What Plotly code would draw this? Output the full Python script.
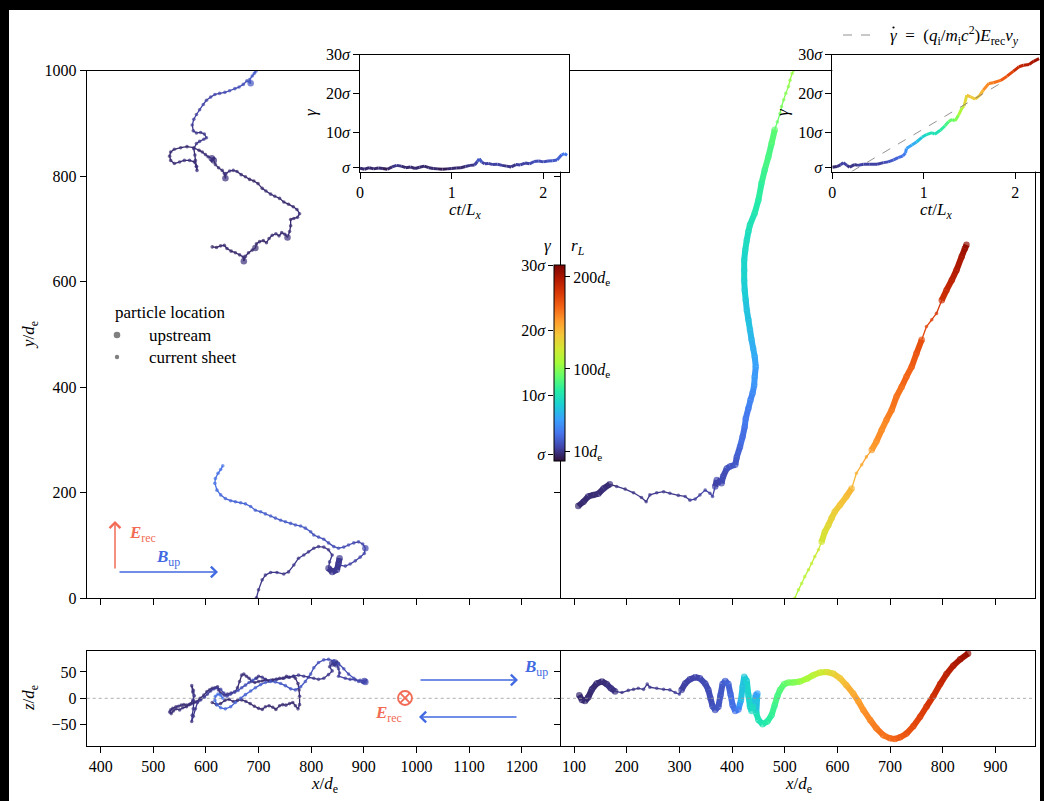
import plotly.graph_objects as go

W, H = 1044, 801
FONT = "Liberation Serif"
TXT = 16
BIG = 17
SALMON = "#f26b55"
BLUE = "#4169e1"
GRAY = "#808080"

# ---------------- data ----------------
# colour scale limits (gamma in units of sigma)
G_MIN, G_MAX = 0.0, 30.0
TURBO = ["#30123b", "#4145ab", "#4675ed", "#39a2fc", "#1bcfd4", "#24eca6", "#61fc6c",
         "#a4fc3b", "#d1e834", "#f3c63a", "#fe9b2d", "#f36315", "#d93806", "#b11901", "#7a0402"]

# left particle, x-y plane, upper piece
LT_X = [612, 620, 628, 635, 640, 648, 656, 664, 671, 672,
        675, 681, 688, 694, 696, 702, 709, 715, 720, 726,
        733, 739, 744, 750, 755, 759, 761, 761, 767, 774,
        778, 773, 766, 757, 748, 740, 731, 723, 714, 707,
        699, 691, 683, 675, 667, 659, 652, 645, 638, 637,
        635, 631, 624, 618, 615, 611, 604, 599, 593, 587,
        577, 564, 552, 540, 533, 531, 533, 540, 550, 559,
        569, 578, 582, 583, 582, 580, 579, 577, 582, 588,
        596, 601, 597, 590, 582, 576, 574, 577, 582, 588,
        595, 601, 609, 617, 626, 636, 645, 655, 663, 671,
        678, 685, 683, 688, 692, 695]
LT_Y = [666, 665, 668, 669, 663, 658, 655, 651, 647, 639,
        648, 655, 660, 664, 672, 676, 678, 674, 682, 688,
        691, 687, 693, 690, 684, 695, 706, 718, 720, 722,
        729, 737, 742, 747, 751, 758, 762, 766, 772, 777,
        786, 791, 794, 799, 803, 809, 811, 810, 805, 796,
        805, 811, 816, 822, 830, 834, 837, 841, 846, 849,
        854, 856, 854, 851, 846, 838, 830, 824, 827, 830,
        830, 827, 818, 811, 819, 830, 840, 852, 862, 866,
        870, 873, 880, 883, 882, 886, 897, 908, 917, 926,
        936, 944, 950, 955, 957, 959, 962, 966, 969, 974,
        981, 976, 983, 990, 995, 999]
LT_G = [0.9, 0.8, 0.9, 1.0, 0.9, 0.8, 0.9, 1.0, 1.1, 1.2,
        1.0, 0.9, 1.0, 1.1, 1.0, 0.9, 0.8, 0.9, 1.0, 1.1,
        1.2, 1.1, 1.0, 1.1, 1.2, 1.0, 0.9, 0.9, 1.0, 1.1,
        1.2, 1.1, 1.0, 0.9, 0.9, 1.0, 1.1, 1.2, 1.1, 1.0,
        0.9, 0.8, 0.8, 0.9, 1.0, 1.1, 1.2, 1.3, 1.2, 1.3,
        1.2, 1.1, 1.0, 1.1, 1.2, 1.3, 1.2, 1.1, 1.0, 0.9,
        0.9, 1.0, 1.1, 1.2, 1.1, 1.0, 1.0, 1.1, 1.2, 1.3,
        1.2, 1.1, 1.2, 1.3, 1.2, 1.1, 1.2, 1.3, 1.4, 1.5,
        1.6, 1.6, 1.5, 1.4, 1.5, 1.6, 1.7, 1.8, 1.8, 1.9,
        2.0, 2.0, 2.1, 2.2, 2.2, 2.3, 2.4, 2.5, 2.5, 2.6,
        2.7, 2.9, 2.8, 3.0, 3.1, 3.2]
LT_LOC = [int(c) for c in "0000000001" "0001000000" "0000100000" "0000000000" "0000000001"
          "0000110000" "0000000000" "0000000000" "0000000000" "0000000000" "010000"]

# left particle, x-y plane, lower piece (after crossing y = 1000 -> 0)
LB_X = [696, 700, 707, 713, 723, 735, 748, 757, 767, 776,
        786, 795, 805, 814, 824, 833, 840, 835, 833, 840,
        849, 852, 854, 852, 865, 874, 884, 893, 901, 903,
        898, 890, 881, 871, 862, 852, 843, 833, 824, 814,
        805, 799, 789, 780, 770, 761, 751, 742, 732, 723,
        713, 704, 694, 685, 675, 666, 656, 647, 637, 628,
        621, 617, 618, 623, 628, 632]
LB_Y = [1, 16, 35, 44, 49, 49, 46, 50, 63, 76,
        82, 88, 95, 98, 97, 92, 82, 69, 57, 50,
        54, 66, 76, 63, 61, 65, 71, 78, 85, 95,
        103, 107, 105, 101, 97, 95, 98, 105, 112, 116,
        120, 126, 133, 137, 139, 142, 145, 148, 152, 156,
        160, 164, 167, 174, 179, 181, 183, 185, 189, 196,
        205, 218, 227, 237, 244, 251]
LB_G = [1.3, 1.3, 1.4, 1.4, 1.5, 1.5, 1.4, 1.4, 1.5, 1.5,
        1.6, 1.6, 1.5, 1.5, 1.4, 1.4, 1.5, 1.5, 1.6, 1.6,
        1.7, 1.7, 1.7, 1.8, 1.9, 2.0, 2.0, 2.1, 2.1, 2.2,
        2.2, 2.2, 2.3, 2.3, 2.4, 2.4, 2.5, 2.5, 2.6, 2.6,
        2.7, 2.7, 2.8, 2.8, 2.9, 2.9, 3.0, 3.0, 3.1, 3.1,
        3.2, 3.2, 3.3, 3.3, 3.4, 3.4, 3.5, 3.5, 3.6, 3.7,
        3.8, 3.9, 4.0, 4.0, 4.1, 4.2]
LB_LOC = [int(c) for c in "0000000000" "0000000011" "1110000001" + "0" * 36]

# left particle, x-z plane
LXZ_X = [612, 620, 628, 636, 644, 652, 660, 668, 676, 684, 692, 700, 707, 713, 720, 727, 733, 740,
         746, 752, 759, 765, 770, 775, 778,
         778, 777, 775, 770, 766, 759, 753, 746, 740, 733, 727, 720, 713, 707, 700, 693, 687, 682,
         677, 672, 668, 664, 660, 655, 648, 641, 635, 628, 624, 622, 617, 612, 607, 602, 596, 589,
         583, 578, 573, 568, 563, 558, 553, 548, 543, 537, 533, 531,
         534, 538, 543, 550, 556, 563, 570, 575, 578, 576, 573, 575, 577, 576, 574, 573, 576, 580,
         584, 590, 597, 603, 609, 615, 621, 628, 634, 640, 647, 654, 661, 668, 675, 682, 689, 695,
         696, 700, 707, 713, 723, 735, 748, 757, 767, 776, 786, 795, 805, 814, 824, 833, 840, 835,
         840, 845, 849, 852, 854, 852,
         865, 874, 884, 893, 901, 903, 898, 890, 881, 871, 862, 852, 843, 833, 824, 814, 805, 799,
         789, 780, 770, 761, 751, 742, 732, 723, 713, 704, 694, 685, 675, 666, 656, 647, 637, 628,
         621, 617, 618, 623, 628, 632]
LXZ_Z = [-8, -12, -10, -4, -2, -6, -4, -3, -6, -10, -15, -19, -21, -16, -14, -17, -21, -14,
         -12, -13, -10, -8, -14, -20, -12,
         4, 16, 28, 38, 42, 40, 42, 38, 38, 36, 35, 33, 35, 33, 32, 30, 32, 38,
         42, 46, 44, 32, 20, 12, 10, 8, 6, 10, 16, 22, 20, 19, 16, 13, 6, 0,
         -6, -8, -10, -12, -13, -12, -13, -15, -16, -19, -22, -26,
         -29, -24, -20, -22, -18, -16, -11, -4, 5, 15, 24, 12, -5, -20, -32, -44, -34, -20,
         -8, -3, 2, 8, 14, 18, 20, 17, 10, 4, 8, 12, 15, 20, 25, 30, 34, 38,
         38, 42, 40, 36, 34, 36, 38, 40, 42, 44, 42, 40, 38, 36, 38, 45, 52, 60,
         66, 68, 64, 56, 48, 42,
         38, 36, 35, 34, 33, 31, 30, 32, 38, 46, 56, 66, 71, 74, 73, 68, 58, 46,
         32, 22, 16, 18, 24, 28, 31, 32, 30, 26, 20, 14, 7, 0, -8, -16, -20, -18,
         -12, -4, 4, 8, 6, 0]
LXZ_G = [0.9, 1.0, 0.9, 1.0, 1.1, 1.0, 0.9, 1.0, 1.1, 1.0, 0.9, 1.0, 1.1, 1.2, 1.1, 1.0, 0.9, 1.0,
         1.1, 1.2, 1.1, 1.0, 1.1, 1.2, 1.2,
         1.2, 1.1, 1.0, 1.1, 1.2, 1.1, 1.0, 0.9, 1.0, 1.1, 1.0, 0.9, 0.8, 0.9, 1.0, 1.1, 1.2, 1.3,
         1.2, 1.3, 1.2, 1.1, 1.0, 1.1, 1.2, 1.3, 1.2, 1.1, 1.0, 0.9, 0.9, 1.0, 1.1, 1.2, 1.1, 1.0,
         1.0, 1.1, 1.2, 1.3, 1.2, 1.1, 1.2, 1.3, 1.2, 1.1, 1.2, 1.3,
         1.2, 1.1, 1.2, 1.3, 1.2, 1.1, 1.2, 1.3, 1.4, 1.3, 1.2, 1.3, 1.4, 1.5, 1.4, 1.3, 1.4, 1.5,
         1.6, 1.6, 1.7, 1.8, 1.8, 1.9, 2.0, 2.0, 2.1, 2.2, 2.2, 2.3, 2.4, 2.5, 2.5, 2.6, 2.7, 2.9,
         1.3, 1.3, 1.4, 1.4, 1.5, 1.5, 1.4, 1.4, 1.5, 1.5, 1.6, 1.6, 1.5, 1.5, 1.4, 1.4, 1.5, 1.5,
         1.6, 1.6, 1.7, 1.7, 1.7, 1.8,
         1.9, 2.0, 2.0, 2.1, 2.1, 2.2, 2.2, 2.2, 2.3, 2.3, 2.4, 2.4, 2.5, 2.5, 2.6, 2.6, 2.7, 2.7,
         2.8, 2.8, 2.9, 2.9, 3.0, 3.0, 3.1, 3.1, 3.2, 3.2, 3.3, 3.3, 3.4, 3.4, 3.5, 3.5, 3.6, 3.7,
         3.8, 3.9, 4.0, 4.0, 4.1, 4.2]
LXZ_LOC = [int(c) for c in "0" * 25 + "0" * 48 + "0" * 36 + "000000000000000000111000"
           + "000011" + "0" * 36]

# right particle, x-y plane, first piece
R1_X = [108, 118, 127, 137, 146, 156, 168, 181, 197, 213, 228, 237, 244, 257, 270, 282, 298, 311,
        320, 330, 339, 349, 358, 363, 368, 371, 380, 383, 390, 396, 406, 409, 415, 420, 424, 426,
        431, 435, 439, 442, 443, 445, 443, 440, 437, 434, 431, 428, 426, 424, 423, 423, 423, 425,
        428, 431, 434, 443, 450, 456, 462, 469, 475, 481, 486, 491, 494, 498, 502, 507, 510, 514, 518]
R1_Y = [175, 183, 193, 196, 198, 208, 216, 212, 207, 200, 191, 183, 196, 200, 202, 199, 195, 193,
        186, 188, 196, 205, 199, 193, 212, 224, 218, 231, 246, 250, 253, 268, 287, 306, 325, 341,
        360, 376, 389, 404, 420, 439, 458, 474, 490, 509, 528, 546, 565, 584, 603, 622, 641, 660,
        679, 695, 708, 730, 755, 787, 812, 837, 862, 888, 903, 919, 932, 945, 957, 970, 982, 995, 1002]
R1_G = [1.0, 1.1, 1.2, 1.1, 1.2, 1.3, 1.2,
        1.3, 1.3, 1.4, 1.4, 1.4, 1.5, 1.5, 1.5, 1.6, 1.6, 1.7, 1.7, 1.8, 1.8, 1.9, 1.9, 2.0,
        2.1, 2.2, 2.3, 2.5, 2.7, 2.9, 3.1, 3.3,
        3.6, 3.9, 4.2, 4.5, 4.8, 5.1, 5.4, 5.8, 6.1, 6.4,
        6.7, 7.0, 7.3, 7.6, 7.9,
        8.1, 8.3, 8.5, 8.7, 8.9, 9.1,
        9.3, 9.5, 9.7, 9.9,
        10.3, 10.7, 11.1, 11.6, 12.0, 12.4, 12.8, 13.1, 13.4,
        13.6, 13.8, 14.0, 14.2, 14.4, 14.6, 14.8]
R1_LOC = [int(c) for c in "1" * 7 + "0" * 17 + "1" * 40 + "0" * 9]

# right particle, x-y plane, second piece
R2_X = [519, 526, 532, 538, 545, 551, 557, 564, 570, 576, 583, 589, 595, 605, 617, 627, 636, 646,
        655, 665, 674, 684, 693, 703, 712, 722, 731, 741, 750, 760, 769, 779, 788, 798, 807, 817,
        826, 836, 842, 845]
R2_Y = [0, 16, 28, 41, 54, 66, 79, 92, 107, 126, 139, 152, 164, 177, 193, 208, 237, 253,
        268, 281, 297, 319, 338, 357, 382, 401, 420, 439, 464, 490, 515, 528, 540, 565, 584, 603,
        622, 648, 663, 670]
R2_G = [15.5, 15.7, 15.9, 16.1, 16.3, 16.5, 16.7, 16.9,
        17.3, 17.7, 18.1, 18.5, 18.9, 19.3, 19.7, 20.0,
        20.4, 20.8, 21.1, 21.4, 21.7,
        22.0, 22.3, 22.6, 22.9, 23.2, 23.5, 23.8,
        24.2, 24.6, 25.0, 25.4, 25.8,
        26.3, 26.8, 27.3, 27.8,
        28.3, 28.7, 29.0]
R2_LOC = [int(c) for c in "0" * 8 + "1" * 8 + "0" * 3 + "1" * 11 + "0" * 3 + "1" * 7]

# right particle, x-z plane
RXZ_X = [110, 115, 121, 127, 134, 143, 153, 162, 170, 178, 191, 203, 213, 222, 232, 239, 244, 257,
         270, 282, 292, 300, 304, 311, 320, 330, 339, 349, 355, 359, 363, 368, 374, 378, 382, 387,
         393, 397, 401, 406, 412, 417, 420, 423, 428, 431, 434, 437, 440, 445, 448, 446, 450, 458,
         467, 475, 481, 486, 491, 499, 507, 516, 529, 542, 554, 567, 580, 592, 605, 617, 630, 640,
         649, 662, 674, 687, 700, 709, 719, 731, 744, 757, 769, 782, 795, 807, 820, 833, 848]
RXZ_Z = [6, -3, -5, 2, 17, 28, 32, 27, 19, 13, 11, 15, 17, 19, 17, 27, 21, 19,
         17, 16, 11, 8, 16, 28, 36, 40, 38, 28, 16, 0, -15, -22, -16, 6, 27, 33,
         27, 8, -13, -24, -21, -3, 22, 41, 33, 6, -16, -24, -16, 6, 9, -28, -41, -49,
         -44, -32, -13, 4, 16, 27, 30, 30, 32, 37, 44, 49, 50, 47, 38, 25, 9, -6,
         -22, -41, -57, -70, -76, -77, -74, -67, -53, -35, -16, 4, 27, 46, 62, 74, 85]
RXZ_G = [1.0, 1.0, 1.1, 1.1, 1.2, 1.2, 1.2, 1.3, 1.3, 1.3,
         1.4, 1.4, 1.4, 1.5, 1.5, 1.5, 1.6, 1.6, 1.6, 1.7, 1.7, 1.8,
         1.9, 2.0, 2.1, 2.2, 2.3, 2.4, 2.5, 2.6,
         2.7, 2.8, 2.9, 3.0, 3.2, 3.4, 3.6, 3.8, 4.0, 4.3, 4.6,
         7.6, 8.0, 8.3, 8.6, 8.9, 9.1, 9.3, 9.5,
         6.0, 6.5, 9.8,
         10.1, 10.4, 10.8, 11.2, 11.6, 12.0,
         12.4, 12.8, 13.3, 13.8,
         14.5, 15.2, 16.0, 16.8, 17.6,
         18.4, 19.2, 20.0, 20.6,
         21.2, 21.7, 22.2, 22.6, 23.0, 23.3,
         23.6, 24.0, 24.4, 24.8, 25.3, 25.8,
         26.3, 26.8, 27.3, 27.8, 28.4, 29.0]
RXZ_LOC = [int(c) for c in "1" * 10 + "0" * 12 + "1" * 67]

# gamma(t) insets
LI_T = [0.00, 0.05, 0.10, 0.15, 0.20, 0.25, 0.30, 0.35, 0.40, 0.45, 0.50, 0.55, 0.60, 0.65, 0.70,
        0.75, 0.80, 0.85, 0.90, 0.95, 1.00, 1.05, 1.10, 1.15, 1.20, 1.25, 1.28, 1.30, 1.33, 1.36,
        1.40, 1.45, 1.50, 1.55, 1.60, 1.65, 1.70, 1.75, 1.80, 1.85, 1.90, 1.95, 2.00, 2.05, 2.10,
        2.15, 2.20, 2.23, 2.26]
LI_G = [0.9, 0.6, 1.0, 0.7, 0.9, 0.8, 0.6, 1.2, 1.6, 1.4, 1.0, 1.2, 0.8, 1.1, 1.4,
        1.0, 0.8, 0.7, 0.6, 0.7, 0.8, 0.9, 1.0, 1.3, 1.6, 1.7, 2.6, 3.3, 2.4, 2.0,
        2.1, 1.8, 1.9, 1.6, 1.4, 1.2, 1.8, 1.7, 2.2, 2.0, 2.6, 2.7, 2.5, 2.7, 2.8,
        3.0, 4.3, 4.6, 4.2]
RI_T = [0.00, 0.05, 0.09, 0.12, 0.16, 0.19, 0.24, 0.28, 0.34, 0.41, 0.49, 0.56, 0.61, 0.67, 0.72,
        0.77, 0.80, 0.81, 0.87, 0.92, 0.98, 1.03, 1.09, 1.12, 1.18, 1.23, 1.27, 1.31, 1.34, 1.38,
        1.42, 1.44, 1.47, 1.51, 1.56, 1.61, 1.65, 1.71, 1.76, 1.84, 1.91, 1.98, 2.04, 2.09, 2.15,
        2.20, 2.26]
RI_G = [1.1, 1.3, 1.7, 2.3, 1.6, 1.1, 1.8, 1.6, 1.9, 1.9, 1.9, 2.3, 2.5, 3.0, 3.6,
        4.0, 4.8, 5.9, 6.8, 7.6, 8.8, 9.5, 10.0, 9.6, 10.6, 11.7, 12.8, 13.4, 13.0, 14.5,
        16.4, 16.8, 19.6, 19.2, 18.6, 19.5, 20.9, 22.6, 22.8, 23.4, 24.5, 25.8, 26.9, 27.3, 27.5,
        28.3, 29.0]
# linear energisation estimate (dashed line)
DASH_T = [0.21, 1.85]
DASH_G = [0.0, 22.8]

# tick labels
TL_X_TICKS = [400, 500, 600, 700, 800, 900, 1000, 1100, 1200]
TR_X_TICKS = [100, 200, 300, 400, 500, 600, 700, 800, 900]
Y_TICKS = [0, 200, 400, 600, 800, 1000]
Z_TICKS = [-50, 0, 50]
T_TICKS = [0, 1, 2]
SIG_VALS = [1, 10, 20, 30]
SIG_TXT = ["<i>σ</i>", "10<i>σ</i>", "20<i>σ</i>", "30<i>σ</i>"]
RL_TICKS = [10, 100, 200]
RL_PER_G = 7.1

for a in [(LT_X, LT_Y, LT_G, LT_LOC), (LB_X, LB_Y, LB_G, LB_LOC), (LXZ_X, LXZ_Z, LXZ_G, LXZ_LOC),
          (R1_X, R1_Y, R1_G, R1_LOC), (R2_X, R2_Y, R2_G, R2_LOC), (RXZ_X, RXZ_Z, RXZ_G, RXZ_LOC)]:
    assert len(set(len(v) for v in a)) == 1, [len(v) for v in a]
assert len(LI_T) == len(LI_G) and len(RI_T) == len(RI_G)


# ---------------- helpers ----------------
def turbo(v):
    v = min(max(v, 0.0), 1.0) * (len(TURBO) - 1)
    i = min(int(v), len(TURBO) - 2)
    f = v - i
    c0 = [int(TURBO[i][k:k + 2], 16) for k in (1, 3, 5)]
    c1 = [int(TURBO[i + 1][k:k + 2], 16) for k in (1, 3, 5)]
    return "rgb(%d,%d,%d)" % tuple(round(a + (b - a) * f) for a, b in zip(c0, c1))


NBIN = 60
fig = go.Figure()


def add_path(xs, ys, gs, locs, xa, ya, thick=6.0, thin=1.3, big=6.5, small=3.6, markers=True):
    groups = {}
    for i in range(len(xs) - 1):
        g = 0.5 * (gs[i] + gs[i + 1])
        b = int(round((g - G_MIN) / (G_MAX - G_MIN) * NBIN))
        up = True if locs is None else bool(locs[i] and locs[i + 1])
        gx, gy = groups.setdefault((b, up), ([], []))
        gx += [xs[i], xs[i + 1], None]
        gy += [ys[i], ys[i + 1], None]
    for (b, up), (gx, gy) in sorted(groups.items(), key=lambda kv: kv[0][1]):
        fig.add_trace(go.Scatter(x=gx, y=gy, mode="lines", xaxis=xa, yaxis=ya,
                                 line=dict(color=turbo(b / NBIN), width=thick if up else thin),
                                 hoverinfo="skip", showlegend=False))
    if markers:
        fig.add_trace(go.Scatter(x=xs, y=ys, mode="markers", xaxis=xa, yaxis=ya,
                                 marker=dict(color=gs, coloraxis="coloraxis",
                                             size=[big if l else small for l in locs],
                                             line=dict(width=0)),
                                 hoverinfo="skip", showlegend=False))


add_path(LT_X, LT_Y, LT_G, LT_LOC, "x", "y")
add_path(LB_X, LB_Y, LB_G, LB_LOC, "x", "y")
add_path(R1_X, R1_Y, R1_G, R1_LOC, "x2", "y2")
add_path(R2_X, R2_Y, R2_G, R2_LOC, "x2", "y2")
add_path(LXZ_X, LXZ_Z, LXZ_G, LXZ_LOC, "x3", "y3")
add_path(RXZ_X, RXZ_Z, RXZ_G, RXZ_LOC, "x4", "y4")
add_path(LI_T, LI_G, LI_G, None, "x5", "y5", thick=3.0, markers=False)
add_path(RI_T, RI_G, RI_G, None, "x6", "y6", thick=3.0, markers=False)
fig.add_trace(go.Scatter(x=DASH_T, y=DASH_G, mode="lines", xaxis="x6", yaxis="y6",
                         line=dict(color="#777777", width=0.8, dash="dash"),
                         hoverinfo="skip", showlegend=False))
fig.add_trace(go.Scatter(x=[None], y=[None], xaxis="x7", yaxis="y7", showlegend=False))


# ---------------- axes ----------------
def dx(a, b):
    return [a / W, b / W]


def dy(top, bot):
    return [1 - bot / H, 1 - top / H]


TF = dict(family=FONT, size=TXT, color="black")
base = dict(showline=True, linecolor="black", linewidth=1, mirror=True, ticks="outside",
            ticklen=6, tickwidth=1, tickcolor="black", showgrid=False, zeroline=False,
            tickfont=TF, fixedrange=True)

TOP = dy(70.7, 598.3)
BOT = dy(651, 746)
LEFTX = dx(86.7, 561)
RIGHTX = dx(561, 1035)
XL_RANGE = [373.4, 1274.8]
XR_RANGE = [75.3, 975]
Z_RANGE = [-90.5, 89.8]

layout_axes = dict(
    xaxis=dict(base, domain=LEFTX, range=XL_RANGE, tickvals=TL_X_TICKS, showticklabels=False, anchor="y"),
    yaxis=dict(base, domain=TOP, range=[0, 1000], tickvals=Y_TICKS, anchor="x", mirror=False),
    xaxis2=dict(base, domain=RIGHTX, range=XR_RANGE, tickvals=TR_X_TICKS, showticklabels=False, anchor="y2"),
    yaxis2=dict(base, domain=TOP, range=[0, 1000], tickvals=Y_TICKS, showticklabels=False, anchor="x2"),
    xaxis3=dict(base, domain=LEFTX, range=XL_RANGE, tickvals=TL_X_TICKS, anchor="y3"),
    yaxis3=dict(base, domain=BOT, range=Z_RANGE, tickvals=Z_TICKS, anchor="x3", mirror=False),
    xaxis4=dict(base, domain=RIGHTX, range=XR_RANGE, tickvals=TR_X_TICKS, anchor="y4"),
    yaxis4=dict(base, domain=BOT, range=Z_RANGE, tickvals=Z_TICKS, showticklabels=False, anchor="x4"),
    xaxis5=dict(base, domain=dx(360, 569), range=[0, 2.28], tickvals=T_TICKS, anchor="y5"),
    yaxis5=dict(base, domain=dy(54.7, 171.6), range=[0, 30], tickvals=SIG_VALS, ticktext=SIG_TXT, anchor="x5"),
    xaxis6=dict(base, domain=dx(832.3, 1040), range=[0, 2.27], tickvals=T_TICKS, anchor="y6"),
    yaxis6=dict(base, domain=dy(54.7, 171.6), range=[0, 30], tickvals=SIG_VALS, ticktext=SIG_TXT, anchor="x6"),
    xaxis7=dict(domain=dx(554.3, 565), range=[0, 1], visible=False, anchor="y7", fixedrange=True),
    yaxis7=dict(domain=dy(265, 460.7), range=[0, 30], tickvals=SIG_VALS, ticktext=SIG_TXT,
                ticks="outside", ticklen=5, tickwidth=1, tickcolor="black", showline=False,
                showgrid=False, zeroline=False, tickfont=TF, anchor="x7", fixedrange=True),
)

fig.update_layout(
    width=W, height=H, margin=dict(l=0, r=0, t=0, b=0), template="none",
    paper_bgcolor="black", plot_bgcolor="white", showlegend=False,
    font=dict(family=FONT, size=TXT, color="black"),
    coloraxis=dict(colorscale="Turbo", cmin=G_MIN, cmax=G_MAX,
                   colorbar=dict(x=554.3 / W, xanchor="left", y=1 - 265 / H, yanchor="top",
                                 len=195.7, lenmode="pixels", thickness=10.7, thicknessmode="pixels",
                                 xpad=0, ypad=0, outlinewidth=1, outlinecolor="black",
                                 ticks="outside", ticklen=5, tickwidth=1, tickcolor="black",
                                 tickvals=[r / RL_PER_G for r in RL_TICKS],
                                 ticktext=["%d<i>d</i><sub>e</sub>" % r for r in RL_TICKS],
                                 tickfont=TF, bgcolor="rgba(0,0,0,0)")),
    **layout_axes,
)

# ---------------- decorations ----------------
shapes = [dict(type="rect", xref="paper", yref="paper", x0=9 / W, x1=1040 / W, y0=0, y1=1 - 10 / H,
               fillcolor="white", line=dict(width=0), layer="below")]
for ax in ("x3", "x4"):
    shapes.append(dict(type="line", xref=ax + " domain", yref="y" + ax[1:], x0=0, x1=1, y0=0, y1=0,
                       line=dict(color="#999999", width=0.8, dash="dot")))


def circ(X, Y, r, **kw):
    return dict(type="circle", xref="paper", yref="paper", x0=(X - r) / W, x1=(X + r) / W,
                y0=1 - (Y + r) / H, y1=1 - (Y - r) / H, **kw)


def seg(X0, Y0, X1, Y1, color, width, dash="solid"):
    return dict(type="line", xref="paper", yref="paper", x0=X0 / W, x1=X1 / W, y0=1 - Y0 / H,
                y1=1 - Y1 / H, line=dict(color=color, width=width, dash=dash))


shapes.append(circ(117, 335, 3.3, fillcolor=GRAY, line=dict(width=0)))
shapes.append(circ(117, 357, 2.2, fillcolor=GRAY, line=dict(width=0)))
shapes.append(circ(405, 698, 7, line=dict(color=SALMON, width=1.8)))
shapes.append(seg(400.2, 693.2, 409.8, 702.8, SALMON, 1.8))
shapes.append(seg(400.2, 702.8, 409.8, 693.2, SALMON, 1.8))
shapes.append(seg(843, 35, 876, 35, "#777777", 0.8, "dash"))
# dot accent over the gamma of the legend formula
shapes.append(circ(893.5, 27.5, 1.1, fillcolor="black", line=dict(width=0)))
fig.update_layout(shapes=shapes)


def note(X, Y, text, color="black", xanchor="center", angle=0, size=BIG):
    fig.add_annotation(x=X / W, y=1 - Y / H, xref="paper", yref="paper", text=text, showarrow=False,
                       font=dict(family=FONT, size=size, color=color), xanchor=xanchor,
                       yanchor="middle", textangle=angle)


def arrow(X0, Y0, X1, Y1, color):
    fig.add_annotation(x=X1 / W, y=1 - Y1 / H, xref="paper", yref="paper", ax=X0 - X1, ay=Y0 - Y1,
                       axref="pixel", ayref="pixel", text="", showarrow=True, arrowhead=4,
                       arrowsize=1.4, arrowwidth=1.5, arrowcolor=color, standoff=0)


XDE = "<i>x</i>/<i>d</i><sub>e</sub>"
note(30, 335, "<i>y</i>/<i>d</i><sub>e</sub>", angle=-90)
note(30, 698, "<i>z</i>/<i>d</i><sub>e</sub>", angle=-90)
note(324, 785, XDE)
note(798, 785, XDE)
note(465, 211, "<i>ct</i>/<i>L</i><sub><i>x</i></sub>")
note(936, 211, "<i>ct</i>/<i>L</i><sub><i>x</i></sub>")
note(310, 112, "<i>γ</i>", angle=-90)
note(782, 112, "<i>γ</i>", angle=-90)
note(548, 245, "<i>γ</i>")
note(578, 247, "<i>r</i><sub><i>L</i></sub>")
note(113, 312, "particle location", xanchor="left")
note(147, 335, "upstream", xanchor="left")
note(147, 357, "current sheet", xanchor="left")
note(888, 35, "<i>γ</i>  =  (<i>q</i><sub>i</sub>/<i>m</i><sub>i</sub><i>c</i><sup>2</sup>)"
     "<i>E</i><sub>rec</sub><i>v</i><sub><i>y</i></sub>", xanchor="left")
note(127, 534, "<b><i>E</i></b><sub>rec</sub>", color=SALMON, xanchor="left")
note(168, 558, "<b><i>B</i></b><sub>up</sub>", color=BLUE)
note(522, 668, "<b><i>B</i></b><sub>up</sub>", color=BLUE, xanchor="left")
note(388, 714, "<b><i>E</i></b><sub>rec</sub>", color=SALMON)
arrow(115, 570, 115, 521, SALMON)
arrow(118, 572, 218, 572, BLUE)
arrow(419, 680, 518, 680, BLUE)
arrow(518, 717, 419, 717, BLUE)

fig.write_html("out.html")
